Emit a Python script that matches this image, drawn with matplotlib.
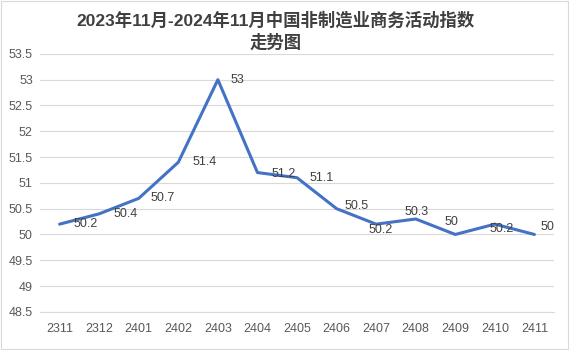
import matplotlib.pyplot as plt
from matplotlib.patches import Rectangle

months = ['2311', '2312', '2401', '2402', '2403', '2404', '2405',
          '2406', '2407', '2408', '2409', '2410', '2411']
index = [50.2, 50.4, 50.7, 51.4, 53, 51.2, 51.1, 50.5, 50.2, 50.3, 50, 50.2, 50]
labels = ['50.2', '50.4', '50.7', '51.4', '53', '51.2', '51.1',
          '50.5', '50.2', '50.3', '50', '50.2', '50']
yticks = [48.5, 49, 49.5, 50, 50.5, 51, 51.5, 52, 52.5, 53, 53.5]

# label offsets from each point, in pixels (Excel auto placement)
label_dx = [26, 26, 24, 26, 20, 26, 25, 20, 4, 1, -4, 7, 13]
label_dy = [0, 0, 0, 0, 0, -1, 0, 3, -6, 7, 12, -5, 7]

plt.rcParams['font.family'] = ['Liberation Sans', 'Noto Sans CJK SC', 'DejaVu Sans']

fig = plt.figure(figsize=(5.69, 3.5), dpi=100)
ax = fig.add_axes([0.070, 0.109, 0.904, 0.737])

x = list(range(len(months)))
ax.plot(x, index, color='#4472C4', lw=2.2, solid_joinstyle='round',
        solid_capstyle='round')
for xi, yi, lab, dx, dy in zip(x, index, labels, label_dx, label_dy):
    ax.annotate(lab, (xi, yi), xytext=(dx, dy), textcoords='offset pixels',
                ha='center', va='center', fontsize=9, color='#404040')

ax.set_xlim(-0.5, len(months) - 0.5)
ax.set_ylim(48.5, 53.5)
ax.set_yticks(yticks)
ax.set_yticklabels(['{:g}'.format(v) for v in yticks])
ax.set_xticks(x)
ax.set_xticklabels(months)
ax.grid(axis='y', color='#D9D9D9', lw=0.8)
ax.set_axisbelow(True)
for s in ['top', 'right', 'left']:
    ax.spines[s].set_visible(False)
ax.spines['bottom'].set_color('#D9D9D9')
ax.tick_params(length=0, labelsize=9, colors='#595959')
ax.tick_params(axis='x', pad=8)
ax.tick_params(axis='y', pad=5)

title_font = dict(ha='center', va='center', fontsize=12.5, fontweight='bold',
                  color='#404040', family=['Liberation Sans', 'Noto Sans CJK SC'])
fig.text(0.485, 1 - 20 / 350, '2023年11月-2024年11月中国非制造业商务活动指数', **title_font)
fig.text(0.485, 1 - 42 / 350, '走势图', **title_font)

fig.patches.append(Rectangle((0.002, 0.003), 0.996, 0.994, transform=fig.transFigure,
                             fill=False, edgecolor='#D9D9D9', lw=0.8))

fig.savefig('out.png', dpi=100)
